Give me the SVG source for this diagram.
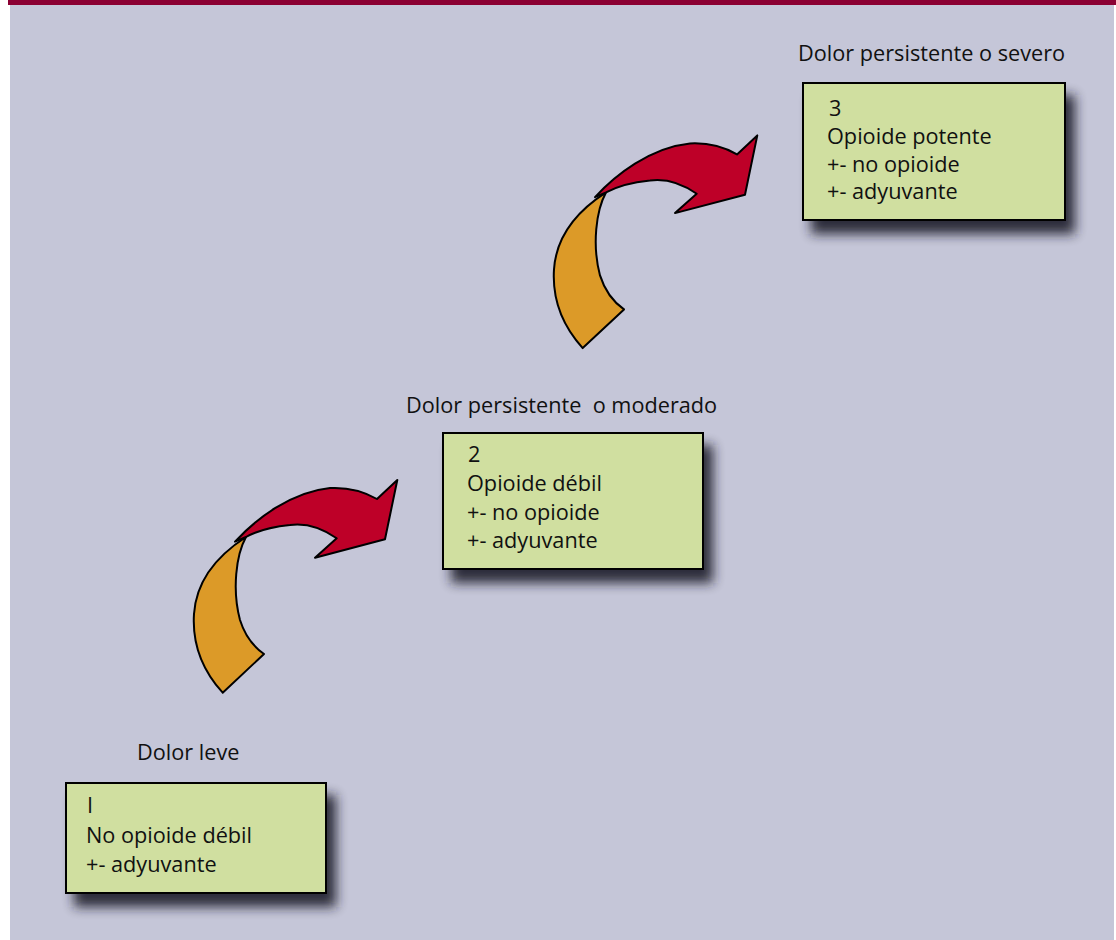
<svg xmlns="http://www.w3.org/2000/svg" width="1116" height="940" viewBox="0 0 1116 940">
  <defs>
    <filter id="shadow" x="-20%" y="-20%" width="150%" height="160%">
      <feGaussianBlur stdDeviation="6"/>
    </filter>
    <path id="orangeShape" d="M 222.7 692.7 C 204 672, 192 645, 194 614 C 196 584, 212 559, 246 537 C 236 555, 232 590, 240 620 C 245 636, 254 647, 264 654 Z"/>
    <path id="redShape" d="M 235 541.7 C 255 520, 290 492, 330 488 C 350 487, 365 492, 377 499 L 397.3 480 L 385 539.3 L 315 557.7 L 336.7 538.3 C 322 528, 305 523, 290 525 C 270 527, 255 532, 246 537 Z"/>
  </defs>
  <style>
    .bg { fill: #C5C6D8; }
    .bar { fill: #8B0033; }
    .box { fill: #D0DFA0; stroke: #000; stroke-width: 2; }
    .shadow { fill: #1a1a2a; opacity: 0.9; filter: url(#shadow); }
    .t { font-family: "Open Sans", "Liberation Sans", sans-serif; font-size: 21.7px; fill: #111; }
    .orange { fill: #DC9A28; stroke: #000; stroke-width: 2; stroke-linejoin: round; }
    .red { fill: #BE0028; stroke: #000; stroke-width: 2; stroke-linejoin: round; }
  </style>
  <rect x="0" y="0" width="1116" height="940" fill="#ffffff"/>
  <rect class="bg" x="10" y="0" width="1104" height="940"/>
  <rect class="bar" x="8" y="0" width="1108" height="5"/>

  <g id="connectors">
    <g id="arrow1">
      <use href="#orangeShape" class="orange"/>
      <use href="#redShape" class="red"/>
    </g>
    <g id="arrow2" transform="translate(360,-344.6)">
      <use href="#orangeShape" class="orange"/>
      <use href="#redShape" class="red"/>
    </g>
  </g>

  <g id="node1">
    <text class="t" x="137" y="760">Dolor leve</text>
    <rect class="shadow" x="74" y="795" width="262" height="112"/>
    <rect class="box" x="66" y="783" width="260" height="110"/>
    <text class="t" x="87" y="813">I</text>
    <text class="t" x="86" y="843">No opioide débil</text>
    <text class="t" x="86" y="872">+- adyuvante</text>
  </g>

  <g id="node2">
    <text class="t" x="406" y="413" xml:space="preserve">Dolor persistente  o moderado</text>
    <rect class="shadow" x="451" y="445" width="262" height="138"/>
    <rect class="box" x="443" y="433" width="260" height="136"/>
    <text class="t" x="468" y="462">2</text>
    <text class="t" x="467" y="491">Opioide débil</text>
    <text class="t" x="467" y="520">+- no opioide</text>
    <text class="t" x="467" y="548">+- adyuvante</text>
  </g>

  <g id="node3">
    <text class="t" x="798" y="61">Dolor persistente o severo</text>
    <rect class="shadow" x="811" y="95" width="264" height="139"/>
    <rect class="box" x="803" y="83" width="262" height="137"/>
    <text class="t" x="829" y="116">3</text>
    <text class="t" x="827" y="144">Opioide potente</text>
    <text class="t" x="827" y="172">+- no opioide</text>
    <text class="t" x="827" y="199">+- adyuvante</text>
  </g>
</svg>
